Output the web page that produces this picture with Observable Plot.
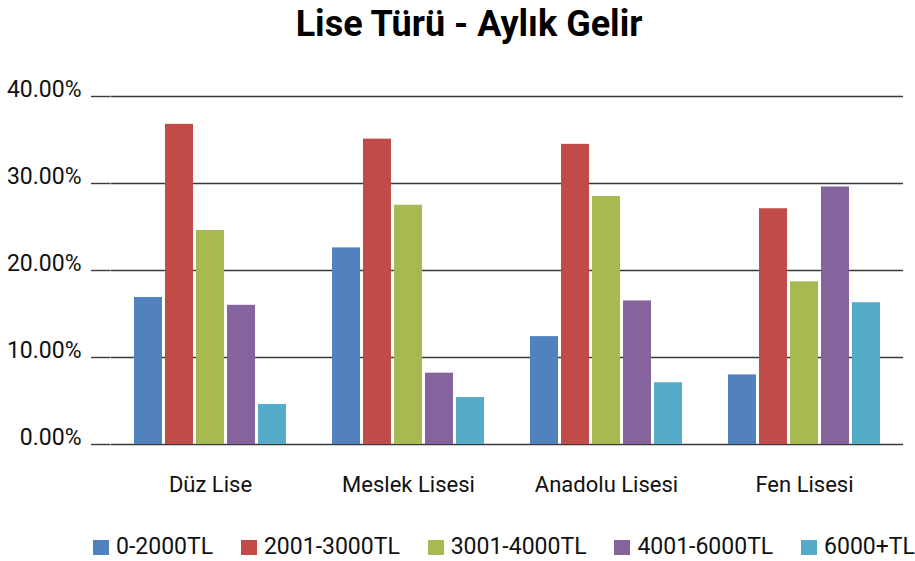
<!DOCTYPE html>
<html>
<head>
<meta charset="utf-8">
<script src="https://cdn.jsdelivr.net/npm/d3@7"></script>
<script src="https://cdn.jsdelivr.net/npm/@observablehq/plot@0.6"></script>
<style>
  html, body { margin: 0; padding: 0; background: #fff; }
  #wrap { position: relative; width: 915px; height: 561px; overflow: hidden; font-family: Roboto, "Noto Sans", sans-serif; color: #111; }
  #title { position: absolute; left: 0; top: 6px; width: 938px; text-align: center; font-size: 36px; line-height: 36px; font-weight: bold; color: #000; }
  #chart { position: absolute; left: 0; top: 50px; }
  #legend { position: absolute; left: 93px; right: 0; top: 535px; display: flex; justify-content: space-between; font-size: 23px; line-height: 23px; white-space: nowrap; }
  .item { display: flex; align-items: center; }
  .sw { width: 16px; height: 15px; margin-right: 7px; margin-top: 2px; }
</style>
</head>
<body>
<div id="wrap">
  <div id="title">Lise Türü - Aylık Gelir</div>
  <div id="chart"></div>
  <div id="legend"></div>
</div>
<script>
const categories = ["Düz Lise", "Meslek Lisesi", "Anadolu Lisesi", "Fen Lisesi"];
const series = ["0-2000TL", "2001-3000TL", "3001-4000TL", "4001-6000TL", "6000+TL"];
const v0_2000 = [16.9, 22.6, 12.4, 8.0];
const v2001_3000 = [36.8, 35.1, 34.5, 27.1];
const v3001_4000 = [24.6, 27.5, 28.5, 18.7];
const v4001_6000 = [16.0, 8.2, 16.5, 29.6];
const v6000plus = [4.6, 5.4, 7.1, 16.3];
const yTicks = [0, 10, 20, 30, 40];
const colors = ["#5282bd", "#c04b48", "#a7ba52", "#85639d", "#55acc8"];

const seriesValues = [v0_2000, v2001_3000, v3001_4000, v4001_6000, v6000plus];
const data = [];
categories.forEach((c, i) => series.forEach((s, j) => data.push({school: c, band: s, value: seriesValues[j][i]})));

const gridColor = "#3a3a3a";
const chart = Plot.plot({
  width: 915,
  height: 460,
  marginLeft: 110,
  marginRight: 11,
  marginTop: 46,
  marginBottom: 66,
  style: {fontFamily: "Roboto, 'Noto Sans', sans-serif", color: "#111", background: "transparent", overflow: "visible"},
  fx: {domain: categories, padding: 0},
  x: {domain: series, paddingInner: 0.111, paddingOuter: 0.706, axis: null},
  y: {domain: [0, 40], axis: null},
  color: {domain: series, range: colors},
  marks: [
    Plot.ruleY(yTicks, {y: d => d, stroke: gridColor, strokeWidth: 1.4}),
    Plot.ruleY(yTicks, {y: d => d, fx: () => categories[0], insetLeft: -20, insetRight: 198.5, stroke: gridColor, strokeWidth: 1.4}),
    Plot.text(yTicks, {y: d => d, fx: () => categories[0], text: d => d.toFixed(2) + "%", frameAnchor: "left", dx: -30, dy: -7, textAnchor: "end", fontSize: 23, fill: "#111"}),
    Plot.barY(data, {fx: "school", x: "band", y: "value", fill: "band"}),
    Plot.axisFx({anchor: "bottom", tickSize: 0, tickPadding: 32, fontSize: 22, label: null})
  ]
});
document.getElementById("chart").appendChild(chart);

const legend = document.getElementById("legend");
series.forEach((s, i) => {
  const item = document.createElement("div");
  item.className = "item";
  const sw = document.createElement("span");
  sw.className = "sw";
  sw.style.background = colors[i];
  const t = document.createElement("span");
  t.textContent = s;
  item.appendChild(sw);
  item.appendChild(t);
  legend.appendChild(item);
});
</script>
</body>
</html>
